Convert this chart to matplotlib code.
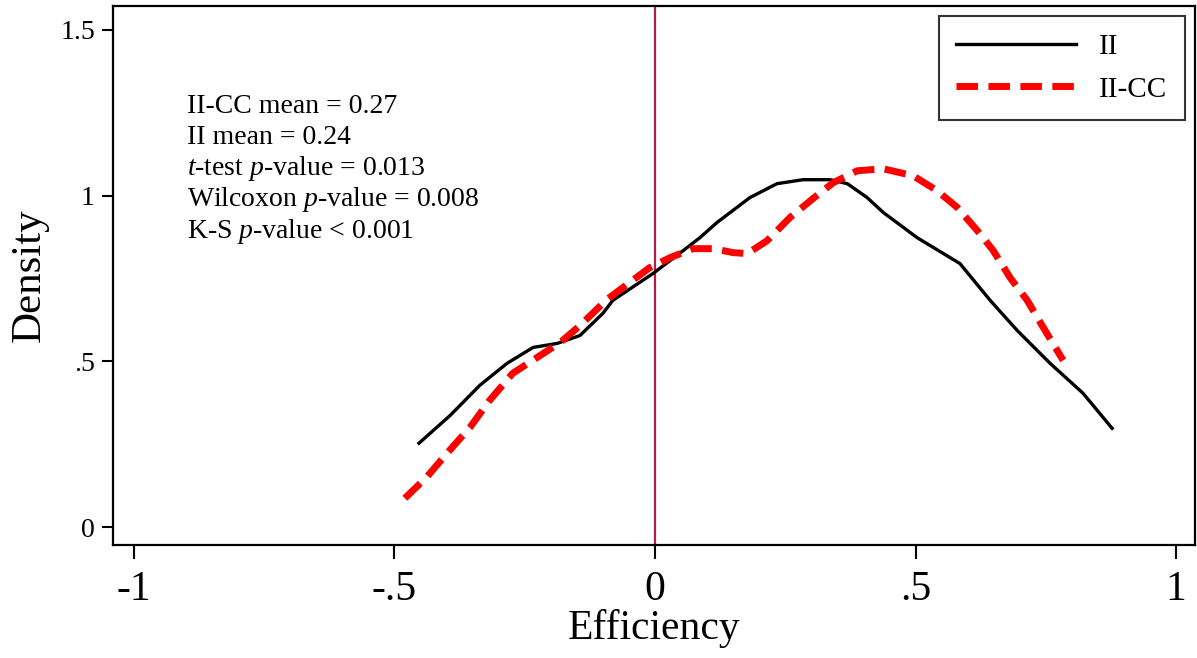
import matplotlib
matplotlib.use("Agg")
import matplotlib.pyplot as plt

plt.rcParams['font.family'] = ['Liberation Serif', 'DejaVu Serif']
plt.rcParams['mathtext.fontset'] = 'custom'
plt.rcParams['mathtext.rm'] = 'Liberation Serif'
plt.rcParams['mathtext.it'] = 'Liberation Serif:italic'

# Data
ii_x = [-0.453, -0.393, -0.336, -0.284, -0.234, -0.188, -0.144, -0.100, -0.081,
        -0.004, 0.054, 0.086, 0.119, 0.182, 0.234, 0.284, 0.336, 0.369, 0.407,
        0.438, 0.503, 0.585, 0.643, 0.695, 0.758, 0.821, 0.877]
ii_y = [0.253, 0.337, 0.428, 0.494, 0.542, 0.554, 0.578, 0.645, 0.684,
        0.765, 0.834, 0.873, 0.919, 0.994, 1.036, 1.048, 1.048, 1.036, 0.994,
        0.949, 0.873, 0.795, 0.684, 0.593, 0.494, 0.404, 0.298]

cc_x = [-0.480, -0.438, -0.399, -0.355, -0.317, -0.273, -0.226, -0.182, -0.144,
        -0.092, -0.010, 0.029, 0.073, 0.111, 0.150, 0.177, 0.215, 0.259, 0.303,
        0.342, 0.388, 0.438, 0.495, 0.541, 0.580, 0.618, 0.649, 0.681, 0.714,
        0.745, 0.783]
cc_y = [0.087, 0.151, 0.223, 0.301, 0.383, 0.464, 0.512, 0.557, 0.608,
        0.687, 0.783, 0.813, 0.840, 0.840, 0.828, 0.825, 0.864, 0.934, 0.991,
        1.039, 1.075, 1.081, 1.060, 1.015, 0.964, 0.895, 0.834, 0.753, 0.684,
        0.602, 0.503]

x_ticks = [-1, -0.5, 0, 0.5, 1]
x_tick_labels = ['-1', '-.5', '0', '.5', '1']
y_ticks = [0, 0.5, 1, 1.5]
y_tick_labels = ['0', '.5', '1', '1.5']

stats_lines = [
    "II-CC mean = 0.27",
    "II mean = 0.24",
    r"$\mathit{t}$-test $\mathit{p}$-value = 0.013",
    r"Wilcoxon $\mathit{p}$-value = 0.008",
    r"K-S $\mathit{p}$-value < 0.001",
]

fig = plt.figure(figsize=(11.97, 6.58), dpi=100)
ax = fig.add_axes([113/1197, (658-545)/658, 1082/1197, 539/658])

ax.plot(ii_x, ii_y, color='black', lw=2.4, label='II', solid_joinstyle='round')
ax.plot(cc_x, cc_y, color='#FF0000', lw=5, dashes=(3.1, 1.5), label='II-CC')
ax.axvline(0, color='#B01E4A', lw=1.6, zorder=1)

ax.set_xlim(-1.040, 1.036)
ax.set_ylim(-0.054, 1.572)
ax.set_xticks(x_ticks)
ax.set_xticklabels(x_tick_labels, fontsize=30)
ax.set_yticks(y_ticks)
ax.set_yticklabels(y_tick_labels, fontsize=20)
ax.tick_params(axis='x', length=10, width=1.5, pad=8)
ax.tick_params(axis='y', length=8, width=1.5, pad=5)
for s in ax.spines.values():
    s.set_linewidth(1.6)

ax.set_xlabel('Efficiency', fontsize=30, labelpad=0)
ax.set_ylabel('Density', fontsize=31, labelpad=8)

for i, line in enumerate(stats_lines):
    y_px = 112 + i * 31.3
    ax.text(-0.898, (527 - y_px) / 332, line, fontsize=20, ha='left', va='baseline')

leg = ax.legend(loc='upper right', fontsize=21, frameon=True, fancybox=False,
                edgecolor='black', handlelength=4.1, borderpad=0.6,
                labelspacing=0.55, borderaxespad=0.35, handletextpad=0.8)
leg.get_frame().set_linewidth(1.5)

fig.savefig('out.png', dpi=100)
